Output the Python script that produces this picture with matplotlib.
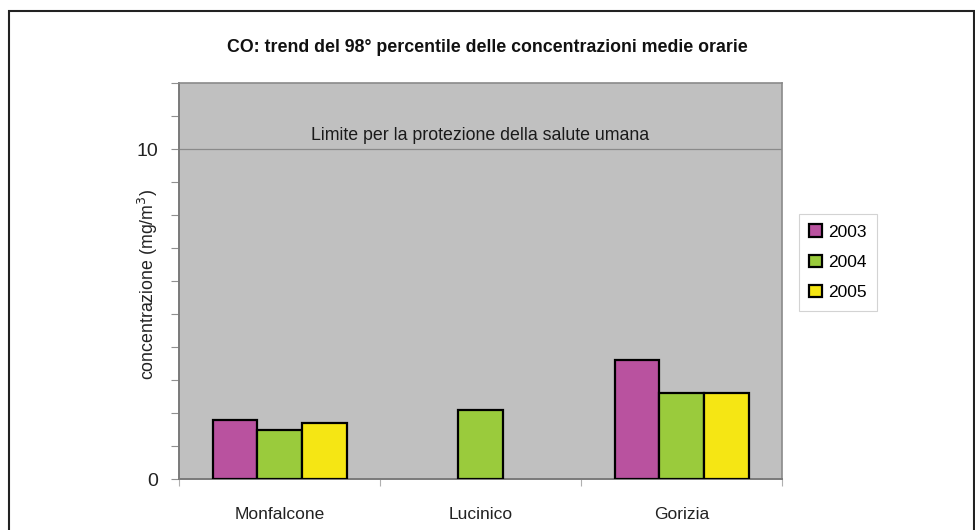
#!/usr/bin/env python3
"""CO: 98th percentile of hourly mean concentrations, grouped bars by station."""

import matplotlib as mpl
import matplotlib.pyplot as plt
import numpy as np
from matplotlib.patches import Rectangle

STATIONS = ["Monfalcone", "Lucinico", "Gorizia"]
YEARS = ["2003", "2004", "2005"]
CO_2003 = [1.8, np.nan, 3.6]
CO_2004 = [1.5, 2.1, 2.6]
CO_2005 = [1.7, np.nan, 2.6]
LIMIT = 10
YEAR_COLORS = ["#b9529f", "#9acb3c", "#f5e614"]

mpl.rcParams.update({
    "font.family": ["Liberation Sans", "DejaVu Sans"],
    "axes.linewidth": 1.0,
})

fig = plt.figure(figsize=(9.75, 5.3), dpi=100, facecolor="white")
ax = fig.add_axes([179 / 975, 51 / 530, 603 / 975, 396 / 530])
ax.set_facecolor("#c0c0c0")

x = np.arange(len(STATIONS))
width = 2 / 3 / len(YEARS)
series = [CO_2003, CO_2004, CO_2005]
for i, (year, vals, color) in enumerate(zip(YEARS, series, YEAR_COLORS)):
    ax.bar(x + (i - 1) * width, vals, width, color=color, edgecolor="black",
           linewidth=1.6, label=year, zorder=3)

ax.axhline(LIMIT, color="#8a8a8a", linewidth=0.9, zorder=2)
ax.text(1.0, LIMIT + 0.15, "Limite per la protezione della salute umana",
        ha="center", va="bottom", fontsize=12.8, color="#1a1a1a")

ax.set_xlim(-0.5, len(STATIONS) - 0.5)
ax.set_ylim(0, 12)
ax.set_yticks([0, 10])
ax.set_yticklabels(["0", "10"], fontsize=14, color="#222222")
ax.set_yticks(np.arange(0, 13, 1), minor=True)
ax.tick_params(axis="y", which="both", length=6, width=0.8, color="#909090", pad=9)

ax.set_xticks(np.arange(-0.5, len(STATIONS), 1.0))
ax.set_xticklabels([])
ax.tick_params(axis="x", which="major", length=5, width=0.8, color="#b0b0b0")
ax.set_xticks(x, minor=True)
ax.set_xticklabels(STATIONS, minor=True, fontsize=12.5, color="#222222")
ax.tick_params(axis="x", which="minor", length=0, pad=20)

ax.set_ylabel("concentrazione (mg/m$^3$)", fontsize=12.8, color="#222222")
ax.yaxis.set_label_coords(-0.032, 0.49)

for side in ["left", "bottom"]:
    ax.spines[side].set_color("#7a7a7a")
    ax.spines[side].set_linewidth(1.4)
for side in ["top", "right"]:
    ax.spines[side].set_color("#8a8a8a")
    ax.spines[side].set_linewidth(1.2)

leg = ax.legend(loc="upper left", bbox_to_anchor=(799 / 975, 316 / 530),
                bbox_transform=fig.transFigure, fontsize=12.5, frameon=True,
                fancybox=False, handlelength=0.75, handleheight=0.75,
                handletextpad=0.3, labelspacing=0.85, borderpad=0.6,
                borderaxespad=0)
leg.get_frame().set_edgecolor("#c8c8c8")
leg.get_frame().set_linewidth(0.8)

fig.text(487 / 975, 1 - 48 / 530,
         "CO: trend del 98\u00b0 percentile delle concentrazioni medie orarie",
         ha="center", va="center", fontsize=12.8, fontweight="bold", color="#111111")

# outer frame of the chart (open at the bottom edge of the image)
fig.patches.append(Rectangle((9 / 975, -0.05), 965 / 975, 1.05 - 11 / 530,
                             transform=fig.transFigure, facecolor="none",
                             edgecolor="#222222", linewidth=1.5))

fig.savefig("out.png", dpi=100)
